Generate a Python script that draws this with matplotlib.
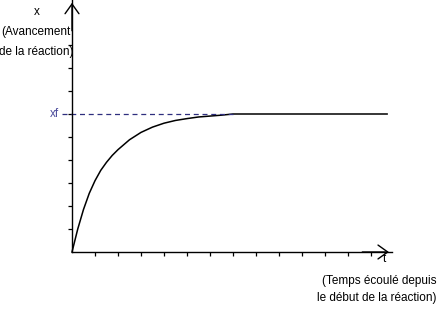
import matplotlib
matplotlib.use("Agg")
import matplotlib.pyplot as plt

# valeurs (1 unité = une graduation)
t_vals = [0, 0.25, 0.5, 0.75, 1.0, 1.25, 1.5, 1.75, 2.0, 2.5, 3.0, 3.5,
          4.0, 4.5, 5.0, 5.5, 6.0, 6.5, 7.0, 13.7]
x_vals = [0, 1.0, 1.85, 2.55, 3.1, 3.55, 3.9, 4.2, 4.45, 4.88, 5.2, 5.43,
          5.6, 5.72, 5.8, 5.87, 5.91, 5.95, 6.0, 6.0]
x_final = 6.0
t_ticks = list(range(1, 14))
x_ticks = list(range(1, 10))

plt.rcParams['font.family'] = ['Liberation Sans', 'DejaVu Sans']

fig = plt.figure(figsize=(4.4, 3.11), dpi=100)
ax = fig.add_axes([0, 0, 1, 1])
ax.set_xlim(-72 / 23, (440 - 72) / 23)
ax.set_ylim(-59 / 23, 252 / 23)

# axes avec graduations
for s in ['top', 'right']:
    ax.spines[s].set_visible(False)
ax.spines['left'].set_position(('data', 0))
ax.spines['bottom'].set_position(('data', 0))
ax.spines['left'].set_bounds(0, 252 / 23)
ax.spines['bottom'].set_bounds(0, 13.9)
ax.spines['left'].set_linewidth(1.0)
ax.spines['bottom'].set_linewidth(1.0)
ax.set_xticks(t_ticks)
ax.set_yticks(x_ticks)
ax.set_xticklabels([])
ax.set_yticklabels([])
ax.tick_params(direction='out', length=3, width=0.9, color='black')

# flèches
arr = dict(arrowstyle='->,head_length=0.7,head_width=0.5', color='black', lw=1.0)
ax.annotate('', xy=(0, 252 / 23), xytext=(0, 9.5), arrowprops=arr)
ax.annotate('', xy=(13.9, 0), xytext=(12.5, 0), arrowprops=arr)

# courbe
ax.plot(t_vals, x_vals, color='black', lw=1.1)
ax.plot([-0.45, 7.0], [x_final, x_final], color='#2e2e7e', lw=0.9,
        linestyle=(0, (4, 3)))

# textes
fs = 8.5
ax.text(-0.78, x_final, 'xf', color='#4b4b9b', fontsize=fs, ha='center', va='center')
ax.text(-1.52, 10.43, 'x', fontsize=fs, ha='center', va='center')
ax.text(-1.57, 9.57, '(Avancement', fontsize=fs, ha='center', va='center')
ax.text(-1.57, 8.7, 'de la réaction)', fontsize=fs, ha='center', va='center')
ax.text(13.6, -0.3, 't', fontsize=fs, ha='center', va='center')
ax.text(15.85, -1.26, '(Temps écoulé depuis', fontsize=fs, ha='right', va='center')
ax.text(15.85, -2.0, 'le début de la réaction)', fontsize=fs, ha='right', va='center')

fig.savefig('out.png', dpi=100)
